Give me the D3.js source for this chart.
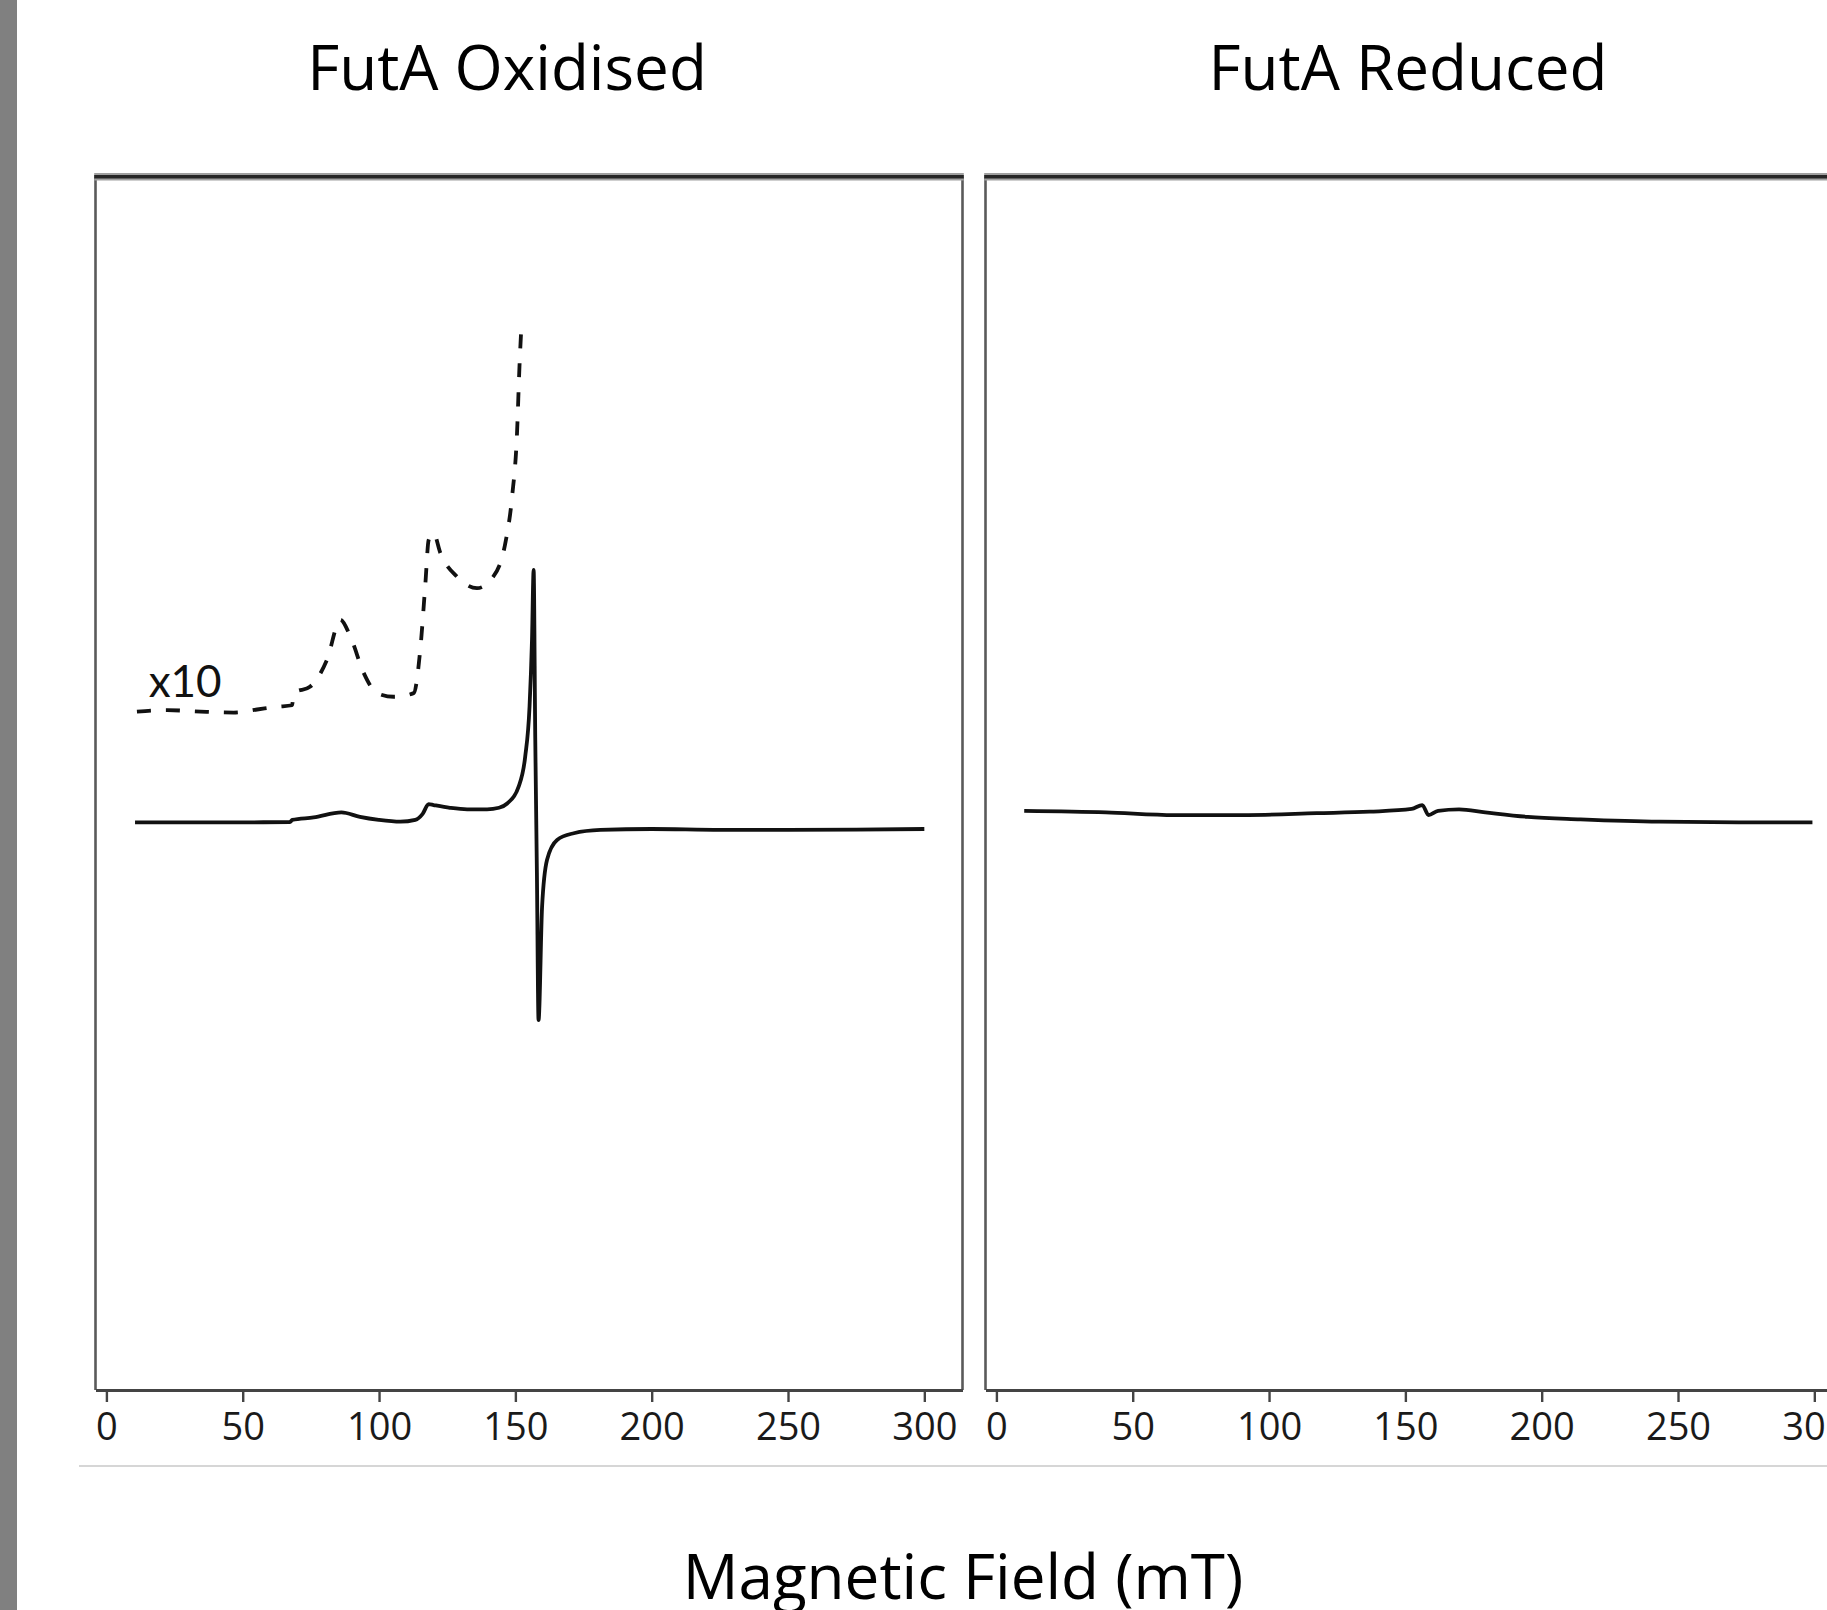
<!DOCTYPE html>
<html>
<head>
<meta charset="utf-8">
<script src="https://cdn.jsdelivr.net/npm/d3@7"></script>
<style>
  html, body { margin: 0; padding: 0; background: #fff; }
  svg { display: block; }
</style>
</head>
<body>
<svg id="chart" width="1827" height="1610"></svg>
<script>
// ---------- data ----------
const panelTitles = ["FutA Oxidised", "FutA Reduced"];
const axisTitle = "Magnetic Field (mT)";
const fieldTicks = [0, 50, 100, 150, 200, 250, 300];
const scaleLabel = "x10";

// Oxidised EPR spectrum (solid)
const oxField  = [10.5, 30, 50, 67.3, 68.2, 76, 86.2, 93, 99.9, 107.8, 113.3, 116, 118.2, 120, 126, 132.3, 139.6, 144, 147, 151.2, 153.6, 155.2, 156.1, 156.7, 157.3, 157.9, 158.5, 159.8, 161.6, 165.3, 171.4, 181.2, 200, 225, 250, 275, 300];
const oxSignal = [-0.4, -0.4, -0.4, -0.35, 0, 0.4, 1.25, 0.5, 0, -0.3, 0, 1.0, 2.6, 2.45, 2.0, 1.75, 1.75, 2.0, 2.7, 5.5, 10.4, 18.7, 29.7, 41.2, 13.2, -8.75, -33, -14.3, -6.6, -3.3, -2.2, -1.65, -1.5, -1.65, -1.65, -1.6, -1.5];

// Oxidised spectrum x10 (dashed)
const oxX10Field  = [11.2, 22.3, 34.5, 46.7, 55.3, 62.6, 68.1, 68.7, 74.8, 80.9, 85.8, 89.5, 94.4, 99.3, 105.4, 112.7, 115.1, 117, 118.2, 120, 122.5, 128.6, 135.9, 141.4, 146.3, 148.8, 150.6, 151.5, 152.2];
const oxX10Signal = [17.85, 18.1, 17.85, 17.7, 18.2, 18.65, 18.9, 20.9, 22.0, 26.4, 33.0, 30.2, 24.2, 20.9, 20.3, 20.9, 28.0, 39.0, 46.15, 47.25, 44.0, 40.1, 38.2, 39.8, 45.6, 53.3, 63.7, 74.7, 81.3];

// Reduced EPR spectrum (solid)
const redField  = [10.2, 40.2, 65.3, 92.4, 117.5, 136.9, 152.3, 156.2, 158.5, 162, 169.7, 179.3, 194.9, 214.2, 243.2, 272.3, 299.3];
const redSignal = [1.5, 1.25, 0.8, 0.8, 1.1, 1.35, 1.8, 2.45, 0.8, 1.5, 1.75, 1.25, 0.5, 0.1, -0.3, -0.4, -0.4];

// ---------- layout ----------
const svg = d3.select("#chart");
const plotTop = 177, plotBottom = 1390;
const panelW = 867;
const panels = [
  { left: 95.5, title: panelTitles[0], titleX: 507 },
  { left: 985.5, title: panelTitles[1], titleX: 1408 }
];
const y = d3.scaleLinear().domain([-94, 106]).range([plotBottom, plotTop]);
const fontMain = "'Open Sans', 'Noto Sans', sans-serif";

// left grey bar
svg.append("rect").attr("x", 0).attr("y", 0).attr("width", 17).attr("height", 1610).attr("fill", "#808080");

// grey separator line
svg.append("line").attr("x1", 79).attr("x2", 1827).attr("y1", 1466).attr("y2", 1466)
  .attr("stroke", "#c8c8c8").attr("stroke-width", 1.5);

const toPts = (xs, ys) => xs.map((v, i) => [v, ys[i]]);

panels.forEach((p, idx) => {
  const x = d3.scaleLinear().domain([-4, 314]).range([p.left, p.left + panelW]);
  const g = svg.append("g");

  // frame: side borders
  [p.left, p.left + panelW].forEach(xx => {
    g.append("line").attr("x1", xx).attr("x2", xx).attr("y1", plotTop).attr("y2", plotBottom)
      .attr("stroke", "#5a5a5a").attr("stroke-width", 2.6);
  });
  // thick top border with soft edges
  g.append("rect").attr("x", p.left - 1.3).attr("y", plotTop - 4).attr("width", panelW + 2.6).attr("height", 7.5).attr("fill", "#a0a0a0");
  g.append("rect").attr("x", p.left - 1.3).attr("y", plotTop - 2).attr("width", panelW + 2.6).attr("height", 3.5).attr("fill", "#262626");

  // bottom axis
  const ax = g.append("g").attr("transform", `translate(0,${plotBottom})`)
    .call(d3.axisBottom(x).tickValues(fieldTicks).tickSize(12).tickSizeOuter(0).tickPadding(11).tickFormat(d3.format("d")));
  ax.select(".domain").attr("stroke", "#444").attr("stroke-width", 2.8);
  ax.selectAll(".tick line").attr("stroke", "#444").attr("stroke-width", 2.4);
  ax.selectAll(".tick text").attr("fill", "#1a1a1a").attr("font-family", fontMain).attr("font-size", 38);

  // title
  svg.append("text").attr("x", p.titleX).attr("y", 90).attr("text-anchor", "middle")
    .attr("font-family", fontMain).attr("font-size", 62).attr("fill", "#000").text(p.title);

  const line = d3.line().x(d => x(d[0])).y(d => y(d[1])).curve(d3.curveMonotoneX);

  if (idx === 0) {
    g.append("path").datum(toPts(oxX10Field, oxX10Signal)).attr("d", line)
      .attr("fill", "none").attr("stroke", "#111").attr("stroke-width", 3.8)
      .attr("stroke-dasharray", "14,15");
    g.append("path").datum(toPts(oxField, oxSignal)).attr("d", line)
      .attr("fill", "none").attr("stroke", "#111").attr("stroke-width", 3.8).attr("stroke-linejoin", "round");
    g.append("text").attr("x", x(15.5)).attr("y", y(20.3))
      .attr("font-family", "Lato, 'Open Sans', sans-serif").attr("font-size", 44).attr("fill", "#111")
      .text(scaleLabel);
  } else {
    g.append("path").datum(toPts(redField, redSignal)).attr("d", line)
      .attr("fill", "none").attr("stroke", "#111").attr("stroke-width", 3.8).attr("stroke-linejoin", "round");
  }
});

// shared x-axis title
svg.append("text").attr("x", 963).attr("y", 1599).attr("text-anchor", "middle")
  .attr("font-family", fontMain).attr("font-size", 62).attr("fill", "#000").text(axisTitle);
</script>
</body>
</html>
